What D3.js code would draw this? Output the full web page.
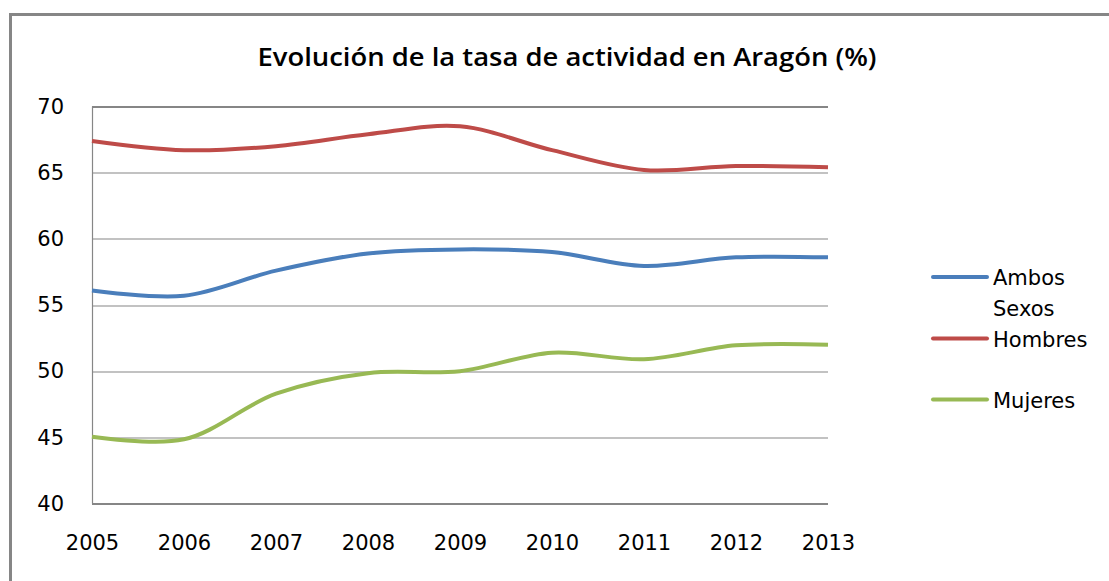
<!DOCTYPE html>
<html>
<head>
<meta charset="utf-8">
<script src="https://cdn.jsdelivr.net/npm/d3@7"></script>
<style>
  body { margin: 0; background: #fff; }
  svg { display: block; }
</style>
</head>
<body>
<div id="chart"></div>
<script>
// data
const years = [2005, 2006, 2007, 2008, 2009, 2010, 2011, 2012, 2013];
const ambosSexos = [56.1, 55.7, 57.6, 58.9, 59.2, 59.0, 57.95, 58.6, 58.6];
const hombres = [67.4, 66.7, 67.0, 67.9, 68.5, 66.7, 65.2, 65.5, 65.4];
const mujeres = [45.05, 44.85, 48.3, 49.85, 50.0, 51.4, 50.9, 51.95, 52.0];
const yTicks = [40, 45, 50, 55, 60, 65, 70];
const seriesNames = ["Ambos Sexos", "Hombres", "Mujeres"];
const colors = ["#4a7ebb", "#be4b48", "#98b954"];

const W = 1109, H = 581;
const margin = {top: 106.5, right: 281, bottom: 77.5, left: 92};
const width = W - margin.left - margin.right,
      height = H - margin.top - margin.bottom;

const root = d3.select("#chart").append("svg")
  .attr("width", W)
  .attr("height", H);

// outer chart frame
root.append("rect")
  .attr("x", 10.5).attr("y", 14.5)
  .attr("width", 1300).attr("height", 800)
  .style("fill", "none")
  .style("stroke", "#868686")
  .style("stroke-width", 3);

// title
root.append("text")
  .attr("x", 567)
  .attr("y", 66)
  .attr("text-anchor", "middle")
  .attr("textLength", 619)
  .attr("lengthAdjust", "spacingAndGlyphs")
  .style("font-family", "'Open Sans', sans-serif")
  .style("font-weight", "600")
  .style("font-size", "25px")
  .style("fill", "#000")
  .text("Evolución de la tasa de actividad en Aragón (%)");

const svg = root.append("g")
  .attr("transform", `translate(${margin.left}, ${margin.top})`);

const x = d3.scaleLinear()
  .domain([2005, 2013])
  .range([0, width]);

const y = d3.scaleLinear()
  .domain([40, 70])
  .range([height, 0]);

// horizontal grid lines
svg.append("g")
  .selectAll("line")
  .data(yTicks)
  .enter()
  .append("line")
    .attr("x1", 0)
    .attr("x2", width)
    .attr("y1", d => Math.round(y(d)) + 0.5)
    .attr("y2", d => Math.round(y(d)) + 0.5)
    .style("stroke", "#868686")
    .style("stroke-width", d => (d == 40 || d == 70) ? 2 : 1.2);

// left axis line
svg.append("line")
  .attr("x1", 0.5).attr("x2", 0.5)
  .attr("y1", 0).attr("y2", height)
  .style("stroke", "#868686")
  .style("stroke-width", 1.2);

// Y axis labels
const yAxis = svg.append("g")
  .call(d3.axisLeft(y).tickValues(yTicks).tickSize(0).tickPadding(28));
yAxis.select(".domain").remove();
yAxis.selectAll(".tick text")
  .style("font-family", "'DejaVu Sans', sans-serif")
  .style("font-size", "21px")
  .attr("fill", "#000");

// X axis labels
const xAxis = svg.append("g")
  .attr("transform", "translate(0," + height + ")")
  .call(d3.axisBottom(x).tickValues(years).tickFormat(d3.format("d")).tickSize(0).tickPadding(32));
xAxis.select(".domain").remove();
xAxis.selectAll(".tick text")
  .style("font-family", "'DejaVu Sans', sans-serif")
  .style("font-size", "21px")
  .attr("fill", "#000");

// lines
const allSeries = [ambosSexos, hombres, mujeres];
const line = d3.line()
  .x((d, i) => x(years[i]))
  .y(d => y(d))
  .curve(d3.curveCatmullRom.alpha(0.5));

svg.append("g")
  .selectAll("path")
  .data(allSeries)
  .enter()
  .append("path")
    .attr("d", d => line(d))
    .style("fill", "none")
    .style("stroke", (d, i) => colors[i])
    .style("stroke-width", 4)
    .style("stroke-linecap", "butt");

// legend
const legendY = [277, 338.5, 399.5];
const legend = root.append("g");
legend.selectAll("line")
  .data(seriesNames)
  .enter()
  .append("line")
    .attr("x1", 933).attr("x2", 987)
    .attr("y1", (d, i) => legendY[i])
    .attr("y2", (d, i) => legendY[i])
    .style("stroke", (d, i) => colors[i])
    .style("stroke-width", 4)
    .style("stroke-linecap", "round");

const legendText = legend.selectAll("text")
  .data(seriesNames)
  .enter()
  .append("text")
    .attr("x", 993)
    .attr("y", (d, i) => legendY[i] + 8)
    .style("font-family", "'DejaVu Sans', sans-serif")
    .style("font-size", "21px")
    .style("fill", "#000");

legendText.each(function(d) {
  const words = d.split(" ");
  const t = d3.select(this);
  words.forEach((w, j) => {
    t.append("tspan")
      .attr("x", 993)
      .attr("dy", j == 0 ? 0 : 31)
      .text(w);
  });
});
</script>
</body>
</html>
